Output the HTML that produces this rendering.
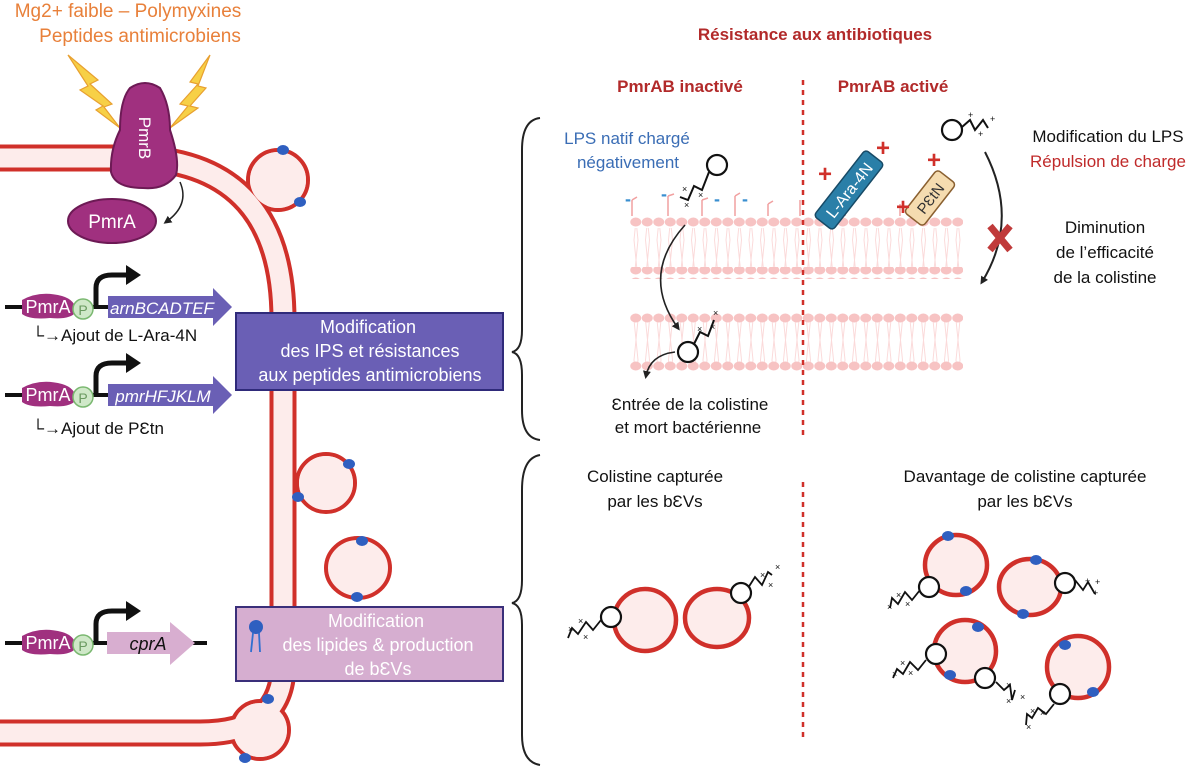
<!DOCTYPE html>
<html><head><meta charset="utf-8"><style>
html,body{margin:0;padding:0;background:#fff;}
svg{display:block;font-family:"Liberation Sans",sans-serif;}
</style></head><body>
<svg width="1200" height="771" viewBox="0 0 1200 771" xmlns="http://www.w3.org/2000/svg">
<defs>
<marker id="ah" markerWidth="8" markerHeight="8" refX="5" refY="4" orient="auto" markerUnits="userSpaceOnUse"><path d="M0,0 L8,4 L0,8 z" fill="#222"/></marker>
<g id="col"><circle cx="0" cy="0" r="10" fill="#fff" stroke="#111" stroke-width="2.2"/></g>
<pattern id="beads" x="630" y="0" width="11.5" height="12" patternUnits="userSpaceOnUse"><ellipse cx="5.75" cy="6" rx="5.5" ry="4.5" fill="#f7c3c3"/></pattern>
<pattern id="tails" x="630" y="0" width="11.5" height="40" patternUnits="userSpaceOnUse"><path d="M4,0 L6,20 L4,40 M8,0 L6,20 L8,40" stroke="#fbdada" stroke-width="1" fill="none"/></pattern>
</defs>

<!-- buds base -->
<g stroke="#d0302a" stroke-width="4" fill="#fdeceb">
<circle cx="278" cy="180" r="30"/>
<circle cx="326" cy="483" r="29"/>
<circle cx="260" cy="730" r="29"/>
</g>
<!-- membrane band -->
<path d="M-5,158 L140,158 Q283,165 283,320 L283,665 Q283,733 200,733 L-5,733" fill="none" stroke="#d0302a" stroke-width="27"/>
<path d="M-5,158 L140,158 Q283,165 283,320 L283,665 Q283,733 200,733 L-5,733" fill="none" stroke="#fdeceb" stroke-width="19"/>
<g fill="#fdeceb">
<circle cx="278" cy="180" r="28"/>
<circle cx="326" cy="483" r="27"/>
<circle cx="260" cy="730" r="27"/>
</g>
<ellipse cx="358" cy="568" rx="32" ry="30" stroke="#d0302a" stroke-width="4" fill="#fdeceb"/>
<g fill="#2f5fc0">
<ellipse cx="283" cy="150" rx="6" ry="5"/><ellipse cx="300" cy="202" rx="6" ry="5"/>
<ellipse cx="349" cy="464" rx="6" ry="5"/><ellipse cx="298" cy="497" rx="6" ry="5"/>
<ellipse cx="362" cy="541" rx="6" ry="5"/><ellipse cx="357" cy="597" rx="6" ry="5"/>
<ellipse cx="268" cy="699" rx="6" ry="5"/><ellipse cx="245" cy="758" rx="6" ry="5"/>
</g>

<!-- top texts -->
<text x="128" y="17" font-size="19" fill="#e8803a" text-anchor="middle">Mg2+ faible – Polymyxines</text>
<text x="140" y="42" font-size="19" fill="#e8803a" text-anchor="middle">Peptides antimicrobiens</text>
<!-- lightning -->
<path d="M68,55 L98,80 L90,84 L112,104 L104,107 L120,128 L96,110 L103,106 L80,90 L88,86 Z" fill="#f7d046" stroke="#e8a030" stroke-width="1.2"/>
<path d="M210,55 L190,82 L198,84 L180,104 L188,106 L170,128 L198,108 L190,106 L206,88 L198,86 Z" fill="#f7d046" stroke="#e8a030" stroke-width="1.2"/>
<!-- PmrB -->
<path d="M130,88 Q145,78 160,88 Q170,105 170,130 Q180,160 176,175 Q165,190 143,188 Q115,188 111,172 Q110,150 120,130 Q120,100 130,88 Z" fill="#a0307f" stroke="#6d1a55" stroke-width="2"/>
<text x="0" y="0" font-size="17" fill="#fff" text-anchor="middle" transform="translate(139,138) rotate(90)">PmrB</text>
<!-- PmrA -->
<ellipse cx="112" cy="221" rx="44" ry="22" fill="#a0307f" stroke="#6d1a55" stroke-width="2"/>
<text x="112" y="228" font-size="19" fill="#fff" text-anchor="middle">PmrA</text>
<path d="M180,182 Q190,205 166,222" fill="none" stroke="#222" stroke-width="1.5" marker-end="url(#ah)"/>

<!-- gene rows -->
<g id="row1">
<line x1="5" y1="307" x2="108" y2="307" stroke="#111" stroke-width="4"/>
<path d="M22,300 Q40,290 62,296 Q76,300 76,312 Q70,320 50,318 Q30,320 22,314 Z" fill="#a0307f"/>
<text x="48" y="313" font-size="18" fill="#fff" text-anchor="middle">PmrA</text>
<circle cx="83" cy="309" r="10" fill="#cfe8c8" stroke="#7ab870" stroke-width="1.5"/>
<text x="83" y="315" font-size="14" fill="#6a9a60" text-anchor="middle">P</text>
<path d="M96,305 L96,288 Q96,275 112,275 L128,275" fill="none" stroke="#111" stroke-width="5"/>
<path d="M126,265 L141,275 L126,285 Z" fill="#111"/>
</g>
<path d="M108,296 L213,296 L213,288 L232,307 L213,326 L213,318 L108,318 Z" fill="#6a5fb5"/>
<text x="162" y="314" font-size="17" fill="#fff" font-style="italic" text-anchor="middle">arnBCADTEF</text>
<text x="32" y="341" font-size="17" fill="#111">└→Ajout de L-Ara-4N</text>

<use href="#row1" y="88"/>
<path d="M108,384 L213,384 L213,376 L232,395 L213,414 L213,406 L108,406 Z" fill="#6a5fb5"/>
<text x="163" y="402" font-size="17" fill="#fff" font-style="italic" text-anchor="middle">pmrHFJKLM</text>
<text x="32" y="434" font-size="17" fill="#111">└→Ajout de PƐtn</text>

<use href="#row1" y="336"/>
<line x1="190" y1="643" x2="207" y2="643" stroke="#111" stroke-width="4"/>
<path d="M107,632 L170,632 L170,622 L195,643 L170,665 L170,654 L107,654 Z" fill="#d8aed0"/>
<text x="148" y="650" font-size="18" fill="#111" font-style="italic" text-anchor="middle">cprA</text>

<!-- boxes -->
<rect x="236" y="313" width="267" height="77" fill="#6a5fb5" stroke="#2f2a7a" stroke-width="2"/>
<text font-size="18" fill="#fff" text-anchor="middle"><tspan x="368" y="333">Modification</tspan><tspan x="370" y="357">des IPS et résistances</tspan><tspan x="370" y="381">aux peptides antimicrobiens</tspan></text>
<rect x="236" y="607" width="267" height="74" fill="#d6aed0" stroke="#3a2f7a" stroke-width="2"/>
<text font-size="18" fill="#fff" text-anchor="middle"><tspan x="376" y="627">Modification</tspan><tspan x="378" y="651">des lipides &amp; production</tspan><tspan x="378" y="675">de bƐVs</tspan></text>
<circle cx="256" cy="627" r="7" fill="#2f5fc0"/>
<path d="M253,633 L251,652 M259,633 L260,652" stroke="#2f6fd0" stroke-width="1.8" fill="none"/>

<!-- braces -->
<path d="M540,118 Q522,120 522,150 L522,330 Q522,350 512,352 Q522,354 522,375 L522,410 Q522,438 540,440" fill="none" stroke="#222" stroke-width="2"/>
<path d="M540,455 Q522,458 522,490 L522,580 Q522,601 512,603 Q522,605 522,625 L522,735 Q522,762 540,765" fill="none" stroke="#222" stroke-width="2"/>

<!-- right titles -->
<text x="815" y="40" font-size="17" font-weight="bold" fill="#b22a2a" text-anchor="middle">Résistance aux antibiotiques</text>
<text x="680" y="92" font-size="17" font-weight="bold" fill="#b22a2a" text-anchor="middle">PmrAB inactivé</text>
<text x="893" y="92" font-size="17" font-weight="bold" fill="#b22a2a" text-anchor="middle">PmrAB activé</text>

<!-- bilayers -->
<rect x="630" y="228" width="333" height="40" fill="url(#tails)"/>
<rect x="630" y="322" width="333" height="40" fill="url(#tails)"/>
<rect x="630" y="217" width="333" height="12" fill="url(#beads)"/>
<rect x="630" y="267" width="333" height="12" fill="url(#beads)"/>
<rect x="630" y="311" width="333" height="12" fill="url(#beads)"/>
<rect x="630" y="361" width="333" height="12" fill="url(#beads)"/>
<line x1="803" y1="80" x2="803" y2="440" stroke="#d0302a" stroke-width="2.5" stroke-dasharray="5,5"/>
<line x1="803" y1="482" x2="803" y2="740" stroke="#d0302a" stroke-width="2.5" stroke-dasharray="5,5"/>
<g stroke="#f1a0a0" stroke-width="1.5" fill="none">
<path d="M632,216 L632,200 M668,216 L668,196 M702,216 L702,200 M735,216 L735,196 M768,216 L768,204 M800,216 L800,200 M845,216 L845,204 M900,216 L900,204 M930,216 L930,200"/>
<path d="M632,200 l5,-3 M668,196 l6,-2 M702,200 l6,-2 M735,196 l5,-3 M768,204 l5,-3 M930,200 l6,-3"/>
</g>
<g fill="#3a8fd0" font-size="18" font-weight="bold" text-anchor="middle">
<text x="628" y="205">-</text><text x="664" y="200">-</text><text x="717" y="205">-</text><text x="745" y="205">-</text>
</g>
<text x="627" y="144" font-size="17" fill="#3a6db5" text-anchor="middle">LPS natif chargé</text>
<text x="628" y="168" font-size="17" fill="#3a6db5" text-anchor="middle">négativement</text>
<!-- colistine upper -->
<use href="#col" x="717" y="165"/>
<path d="M709,172 L702,190 L694,186 L688,200 L680,197" fill="none" stroke="#111" stroke-width="2"/>
<g font-size="9" fill="#111"><text x="682" y="192">×</text><text x="698" y="198">×</text><text x="684" y="208">×</text></g>
<path d="M685,225 Q640,275 678,328" fill="none" stroke="#222" stroke-width="1.6" marker-end="url(#ah)"/>
<use href="#col" x="688" y="352"/>
<path d="M694,344 L700,332 L708,336 L714,320" fill="none" stroke="#111" stroke-width="2"/>
<g font-size="9" fill="#111"><text x="697" y="332">×</text><text x="710" y="330">×</text><text x="713" y="316">×</text></g>
<path d="M675,352 Q650,355 646,376" fill="none" stroke="#222" stroke-width="1.6" marker-end="url(#ah)"/>
<text x="690" y="410" font-size="17" fill="#111" text-anchor="middle">Ɛntrée de la colistine</text>
<text x="688" y="433" font-size="17" fill="#111" text-anchor="middle">et mort bactérienne</text>

<!-- activated side -->
<g transform="translate(849,190) rotate(-52)"><rect x="-42" y="-12" width="84" height="24" rx="4" fill="#2a7fa8" stroke="#174a66" stroke-width="1.5"/><text x="0" y="6" font-size="16" fill="#fff" text-anchor="middle">L-Ara-4N</text></g>
<g transform="translate(930,198) rotate(-52)"><rect x="-27" y="-12" width="54" height="24" rx="4" fill="#f5dcb0" stroke="#8a6030" stroke-width="1.5"/><text x="0" y="6" font-size="15" fill="#333" text-anchor="middle">PƐtN</text></g>
<g fill="#d0302a" font-size="24" font-weight="bold" text-anchor="middle">
<text x="825" y="182">+</text><text x="883" y="156">+</text><text x="934" y="168">+</text><text x="903" y="215">+</text>
</g>
<use href="#col" x="952" y="130"/>
<path d="M962,127 L970,120 L975,130 L983,120 L988,128" fill="none" stroke="#111" stroke-width="2"/>
<g font-size="9" fill="#111"><text x="968" y="118">+</text><text x="978" y="137">+</text><text x="990" y="122">+</text></g>
<text x="1108" y="142" font-size="17" fill="#111" text-anchor="middle">Modification du LPS</text>
<text x="1108" y="167" font-size="17" fill="#c02a2a" text-anchor="middle">Répulsion de charge</text>
<path d="M985,152 Q1020,220 982,282" fill="none" stroke="#222" stroke-width="2" marker-end="url(#ah)"/>
<path d="M990,226 L1010,250 M1010,226 L990,250" stroke="#c03a3a" stroke-width="7"/>
<text x="1105" y="233" font-size="17" fill="#111" text-anchor="middle">Diminution</text>
<text x="1105" y="258" font-size="17" fill="#111" text-anchor="middle">de l’efficacité</text>
<text x="1105" y="283" font-size="17" fill="#111" text-anchor="middle">de la colistine</text>

<!-- lower section -->
<text x="655" y="482" font-size="17" fill="#111" text-anchor="middle">Colistine capturée</text>
<text x="655" y="507" font-size="17" fill="#111" text-anchor="middle">par les bƐVs</text>
<text x="1025" y="482" font-size="17" fill="#111" text-anchor="middle">Davantage de colistine capturée</text>
<text x="1025" y="507" font-size="17" fill="#111" text-anchor="middle">par les bƐVs</text>
<g stroke="#d0302a" stroke-width="4.5" fill="#fdeceb">
<ellipse cx="645" cy="620" rx="31" ry="31"/>
<ellipse cx="717" cy="618" rx="32" ry="29"/>
<ellipse cx="956" cy="565" rx="31" ry="30"/>
<ellipse cx="1030" cy="587" rx="31" ry="28"/>
<ellipse cx="965" cy="651" rx="31" ry="31"/>
<ellipse cx="1078" cy="667" rx="31" ry="31"/>
</g>
<g fill="#2f5fc0">
<ellipse cx="948" cy="536" rx="6" ry="5"/><ellipse cx="966" cy="591" rx="6" ry="5"/>
<ellipse cx="1036" cy="560" rx="6" ry="5"/><ellipse cx="1023" cy="614" rx="6" ry="5"/>
<ellipse cx="978" cy="627" rx="6" ry="5"/><ellipse cx="950" cy="675" rx="6" ry="5"/>
<ellipse cx="1065" cy="645" rx="6" ry="5"/><ellipse cx="1093" cy="692" rx="6" ry="5"/>
</g>
<g stroke="#111" stroke-width="1.8" fill="none">
<path d="M601,620 L593,630 L586,622 L578,634 L572,628 L568,638"/>
<path d="M748,588 L755,577 L762,585 L768,572 L772,575"/>
<path d="M920,590 L912,600 L905,592 L898,604 L892,598 L890,608"/>
<path d="M1075,580 L1083,590 L1088,582 L1095,594"/>
<path d="M926,660 L918,670 L910,662 L903,674 L897,669 L893,678"/>
<path d="M996,682 L1004,690 L1010,685 L1012,700 L1015,690"/>
<path d="M1054,704 L1046,714 L1038,708 L1032,718 L1027,714 L1026,725"/>
</g>
<use href="#col" x="611" y="617"/><use href="#col" x="741" y="593"/>
<use href="#col" x="929" y="587"/><use href="#col" x="1065" y="583"/>
<use href="#col" x="936" y="654"/><use href="#col" x="985" y="678"/>
<use href="#col" x="1060" y="694"/>
<g font-size="9" fill="#111">
<text x="568" y="632">×</text><text x="578" y="624">×</text><text x="583" y="640">×</text>
<text x="760" y="578">×</text><text x="768" y="588">×</text><text x="775" y="570">×</text>
<text x="887" y="610">×</text><text x="896" y="598">×</text><text x="905" y="607">×</text>
<text x="1085" y="584">+</text><text x="1095" y="585">+</text><text x="1093" y="596">+</text>
<text x="892" y="677">×</text><text x="900" y="666">×</text><text x="908" y="676">×</text>
<text x="1006" y="688">×</text><text x="1006" y="704">×</text><text x="1020" y="700">×</text>
<text x="1030" y="714">×</text><text x="1040" y="716">×</text><text x="1026" y="730">×</text>
</g>
</svg>
</body></html>
